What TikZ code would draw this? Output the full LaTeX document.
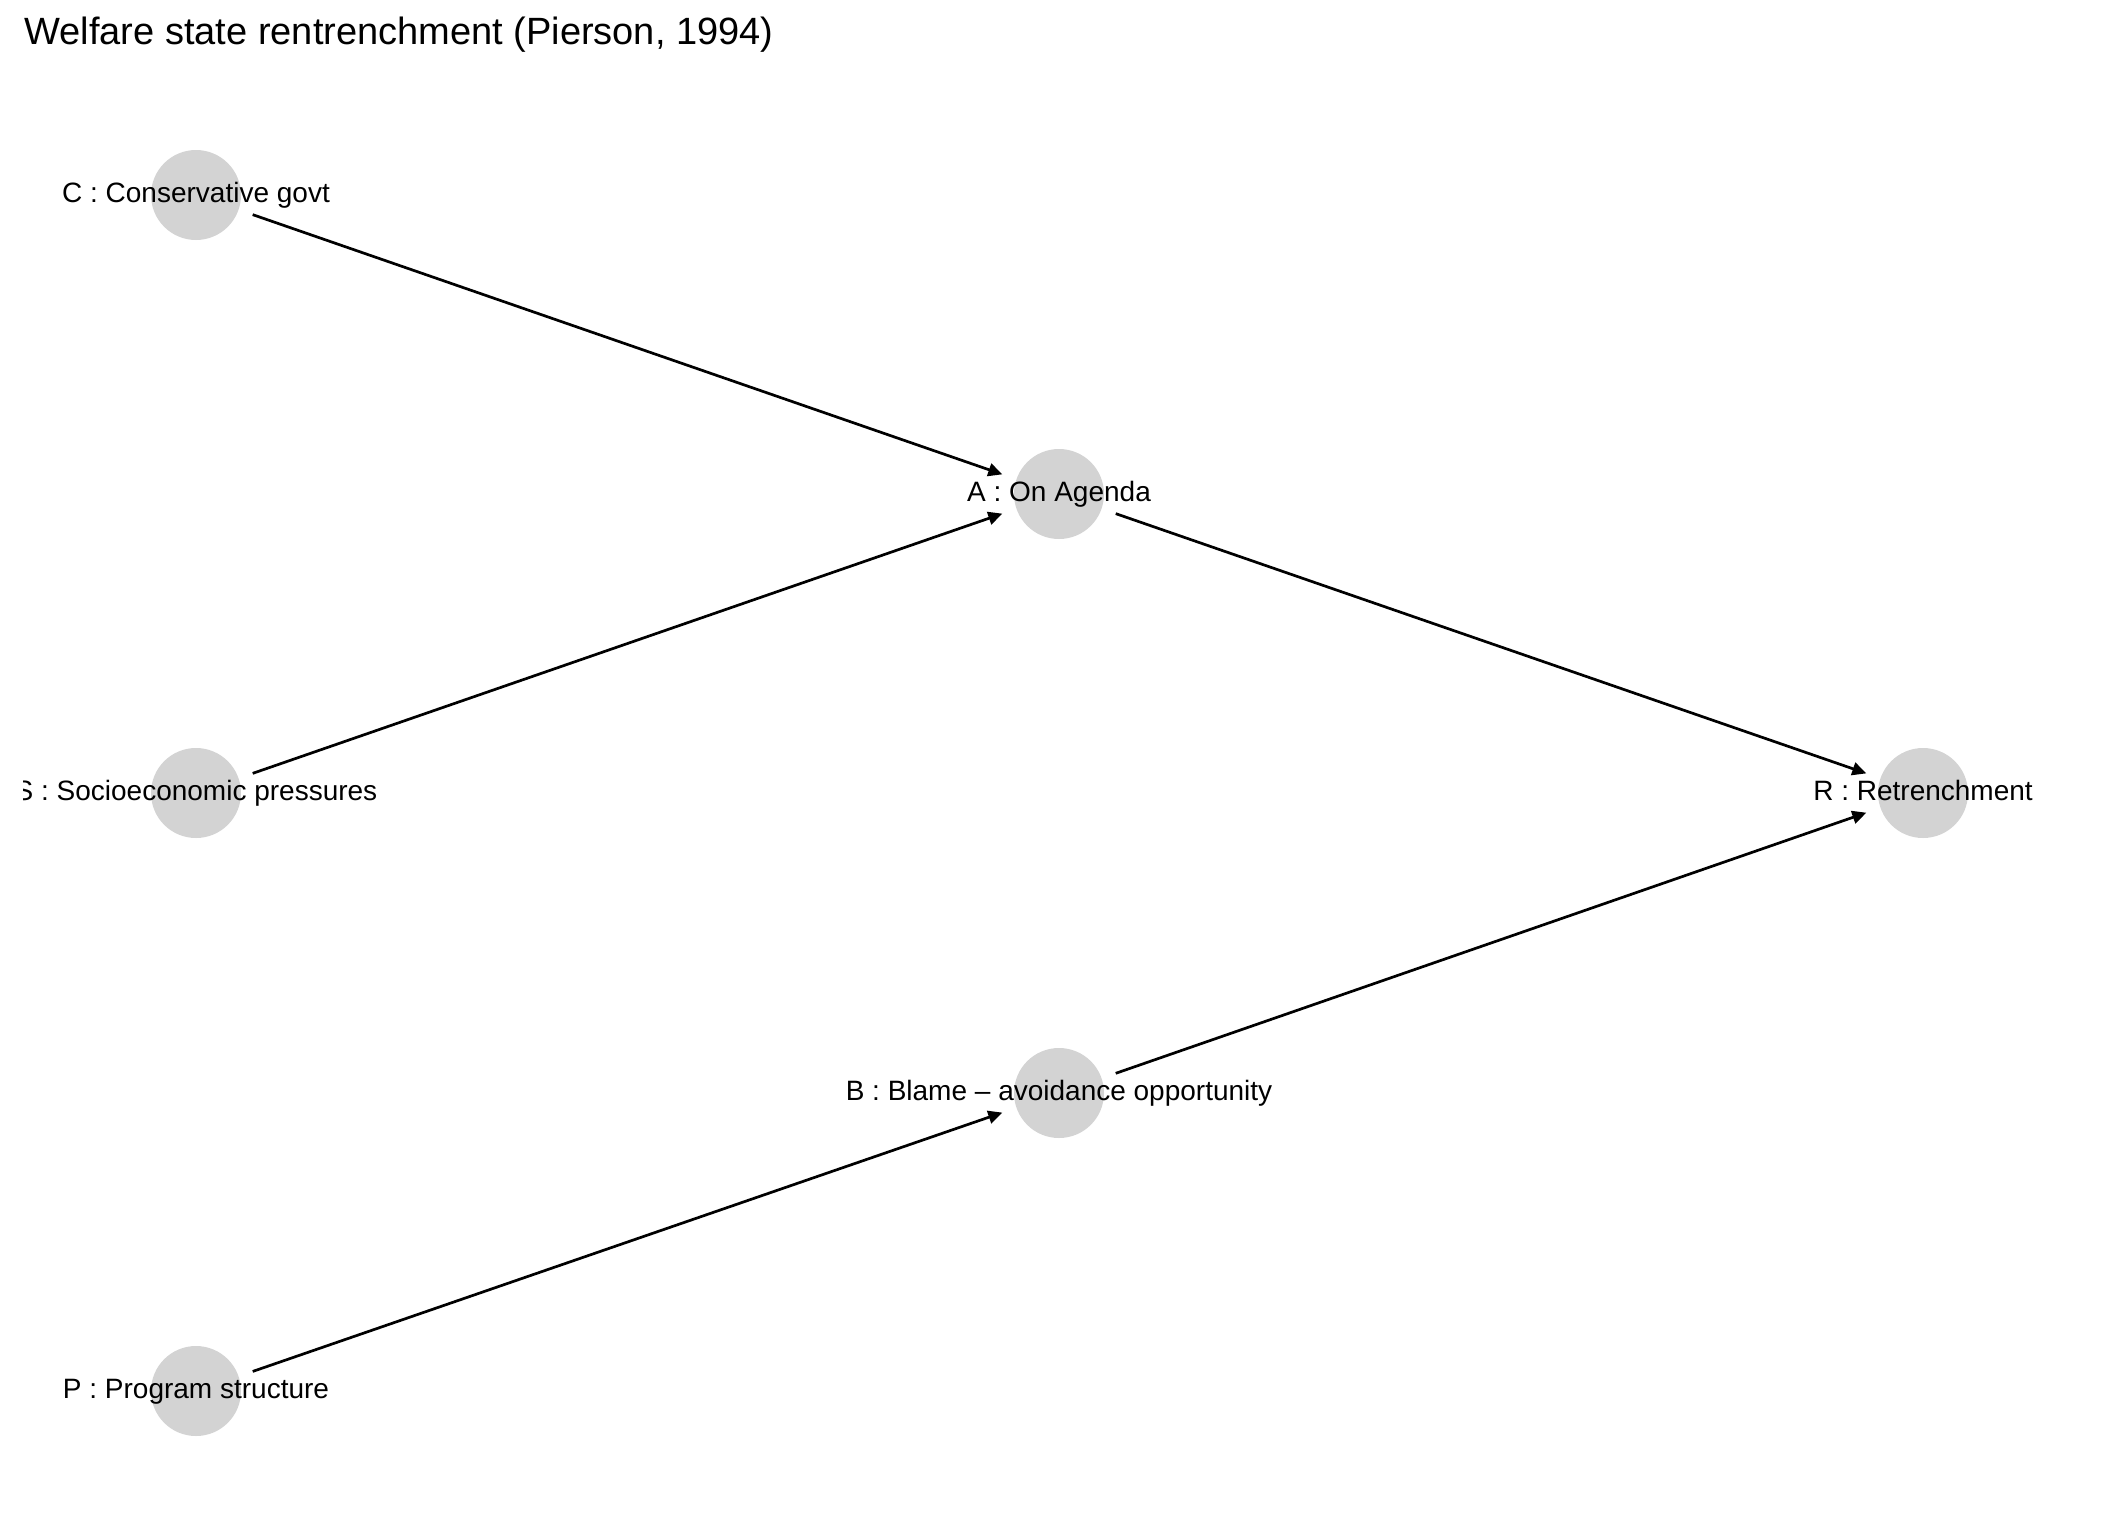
\documentclass[tikz,border=0pt]{standalone}
\usepackage{fontspec}
\setmainfont{Liberation Sans}
\usetikzlibrary{arrows.meta}
\definecolor{nodegray}{HTML}{D3D3D3}

\begin{document}
\begin{tikzpicture}
      [x=0.5pt, y=-0.5pt,
      dag node/.style={circle, fill=nodegray, minimum size=45pt, inner sep=0pt, outer sep=7.5pt},
      dag label/.style={font=\fontsize{14}{16}\selectfont, text height=1.38ex, text depth=0pt, inner sep=0pt},
      dag edge/.style={-{Triangle[length=7pt,width=6.5pt]}, line width=1.35pt}]

      \useasboundingbox (0,0) rectangle (2112,1536);
      \node[anchor=base west, inner sep=0pt, font=\fontsize{19}{22}\selectfont] (title) at (24,45)
        {Welfare state rentrenchment (Pierson, 1994)};

      % nodes
      \node[dag node] (c) at (196,195) {};
      \node[dag node] (s) at (196,793) {};
      \node[dag node] (p) at (196,1391) {};
      \node[dag node] (a) at (1059,494) {};
      \node[dag node] (b) at (1059,1093) {};
      \node[dag node] (r) at (1923,793) {};

      % edges
      \draw[dag edge] (c) -- (a);
      \draw[dag edge] (s) -- (a);
      \draw[dag edge] (p) -- (b);
      \draw[dag edge] (a) -- (r);
      \draw[dag edge] (b) -- (r);

      % labels
      \begin{scope}
        \clip (23,60) rectangle (2112,1536);
        \node[dag label] (cl) at (c) {C : Conservative govt};
        \node[dag label] (sl) at (s) {S : Socioeconomic pressures};
        \node[dag label] (pl) at (p) {P : Program structure};
        \node[dag label] (al) at (a) {A : On Agenda};
        \node[dag label] (bl) at (b) {B : Blame – avoidance opportunity};
        \node[dag label] (rl) at (r) {R : Retrenchment};
      \end{scope}
    \end{tikzpicture}
\end{document}
